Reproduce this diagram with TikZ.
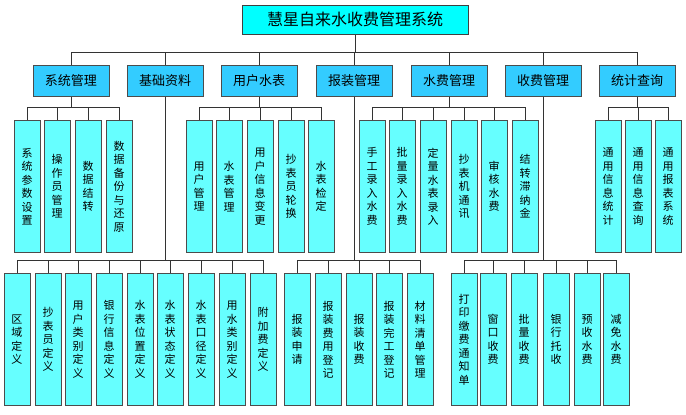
\documentclass[tikz,border=0pt]{standalone}
\usepackage{fontspec}
\setmainfont{Noto Sans CJK SC}
\XeTeXlinebreaklocale "zh"
\usetikzlibrary{positioning}
\definecolor{topcyan}{HTML}{00FFFF}
\definecolor{midcyan}{HTML}{33CCFF}
\definecolor{leafcyan}{HTML}{66FFFF}
\tikzset{
  title/.style = {rectangle, draw=black!75, line width=1pt, fill=topcyan, minimum width=226pt, minimum height=29pt, font=\fontsize{16}{18}\selectfont},
  group/.style = {rectangle, draw=black!70, line width=1pt, fill=midcyan, minimum width=76pt, minimum height=31pt, font=\fontsize{13}{15}\selectfont},
  leaf/.style  = {rectangle, draw=black!70, line width=1pt, fill=leafcyan, minimum width=26pt, minimum height=132pt, text width=12pt, align=center, inner sep=0pt, anchor=north, font=\fontsize{11}{13.5}\selectfont},
  line/.style  = {draw=black!80, line width=0.8pt}
}
\begin{document}
\begin{tikzpicture}[x=1pt, y=-1pt]
  \useasboundingbox (0,0) rectangle (686,415);
  \node [title] (sys) at (355,19.5) {慧星自来水收费管理系统};

  % first level
  \foreach \name/\cx/\txt in {g1/71/系统管理, g2/165/基础资料, g3/259/用户水表, g4/354/报装管理, g5/449/水费管理, g6/543/收费管理, g7/637/统计查询}
    \node [group] (\name) at (\cx,80.5) {\txt};

  \coordinate (busl) at (71,52);
  \coordinate (busr) at (637,52);
  \path [line] (sys.south) -- (sys.south |- busl);
  \path [line] (busl) -- (busr);
  \foreach \name in {g1,g2,g3,g4,g5,g6,g7}
    \path [line] (\name.north) -- (\name.north |- busl);

  % leaves under the upper row
  \foreach \grp/\names/\y in {g1/{a1/27/系统参数设置, a2/57/操作员管理, a3/88/数据结转, a4/119/数据备份与还原}/120,
                               g3/{c1/199/用户管理, c2/229/水表管理, c3/260/用户信息变更, c4/291/抄表员轮换, c5/321/水表检定}/120,
                               g5/{e1/372/手工录入水费, e2/402/批量录入水费, e3/433/定量水表录入, e4/464/抄表机通讯, e5/494/审核水费, e6/525/结转滞纳金}/120,
                               g7/{h1/608/通用信息统计, h2/638/通用信息查询, h3/668/通用报表系统}/120,
                               g2/{b1/17/区域定义, b2/48/抄表员定义, b3/78/用户类别定义, b4/109/银行信息定义, b5/140/水表位置定义, b6/170/水表状态定义, b7/201/水表口径定义, b8/232/用水类别定义, b9/263/附加费定义}/273,
                               g4/{d1/297/报装申请, d2/328/报装费用登记, d3/359/报装收费, d4/389/报装完工登记, d5/420/材料清单管理}/273,
                               g6/{f1/464/打印缴费通知单, f2/493/窗口收费, f3/524/批量收费, f4/556/银行托收, f5/587/预收水费, f6/616/减免水费}/273} {
    \coordinate (bus-\grp) at (0,\y-13);
    \path [line] (\grp.south) -- (\grp.south |- bus-\grp);
    \foreach \leafname/\cx/\txt [count=\i] in \names {
      \node [leaf] (\leafname) at (\cx,\y) {\txt};
      \path [line] (\leafname.north) -- (\leafname.north |- bus-\grp);
      \ifnum\i=1 \xdef\firstleaf{\leafname}\fi
      \xdef\lastleaf{\leafname}
    }
    \path [line] (\firstleaf.north |- bus-\grp) -- (\lastleaf.north |- bus-\grp);
  }
\end{tikzpicture}
\end{document}
